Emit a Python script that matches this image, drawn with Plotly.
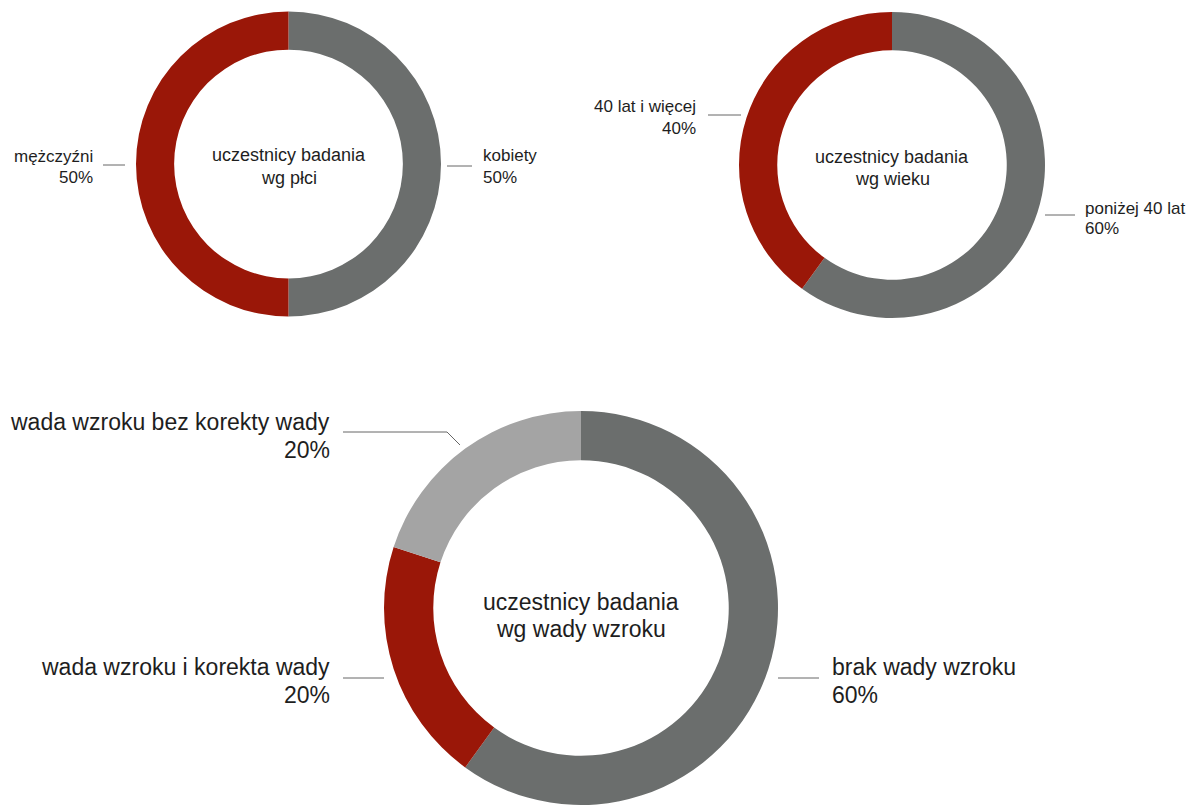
import plotly.graph_objects as go

W, H = 1197, 805

# ---- data ----
gender_labels = ["kobiety", "mężczyźni"]
gender_values = [50, 50]
age_labels = ["poniżej 40 lat", "40 lat i więcej"]
age_values = [60, 40]
vision_labels = ["brak wady wzroku", "wada wzroku i korekta wady", "wada wzroku bez korekty wady"]
vision_values = [60, 20, 20]
center_titles = [
    ["uczestnicy badania", "wg płci"],
    ["uczestnicy badania", "wg wieku"],
    ["uczestnicy badania", "wg wady wzroku"],
]

RED = "#9a1708"
DARK = "#6b6e6d"
LIGHT = "#a4a4a4"
TXT = "#1e1e1e"
LINE = "#666666"
FONT = "Liberation Sans, Arial, Helvetica, sans-serif"


def px(x):
    return x / W


def py(y):
    return 1 - y / H


def dom(cx, cy, r):
    return dict(x=[px(cx - r), px(cx + r)], y=[max(0, py(cy + r)), min(1, py(cy - r))])


fig = go.Figure()

fig.add_trace(go.Pie(
    labels=gender_labels, values=gender_values, hole=0.75, sort=False,
    direction="clockwise", rotation=0, textinfo="none", hoverinfo="label+percent",
    marker=dict(colors=[DARK, RED], line=dict(width=0)),
    domain=dom(288.5, 164, 152.5), showlegend=False,
))
fig.add_trace(go.Pie(
    labels=age_labels, values=age_values, hole=0.75, sort=False,
    direction="clockwise", rotation=0, textinfo="none", hoverinfo="label+percent",
    marker=dict(colors=[DARK, RED], line=dict(width=0)),
    domain=dom(892, 165, 153), showlegend=False,
))
fig.add_trace(go.Pie(
    labels=vision_labels, values=vision_values, hole=0.75, sort=False,
    direction="clockwise", rotation=0, textinfo="none", hoverinfo="label+percent",
    marker=dict(colors=[DARK, RED, LIGHT], line=dict(width=0)),
    domain=dict(x=[px(581 - 197), px(581 + 197)], y=[0, 394 / H]), showlegend=False,
))

annotations = []


def label(lines, x, ys, anchor, size):
    for t, y in zip(lines, ys):
        annotations.append(dict(
            text=t, x=px(x), y=py(y), xref="paper", yref="paper",
            xanchor=anchor, yanchor="middle", showarrow=False,
            align=anchor if anchor != "center" else "center",
            font=dict(family=FONT, size=size, color=TXT),
        ))


# top-left
label([gender_labels[1], f"{gender_values[1]}%"], 95, [156, 177], "right", 17)
label([gender_labels[0], f"{gender_values[0]}%"], 481, [155, 177], "left", 17)
label(center_titles[0], 289, [155, 178], "center", 18)
# top-right
label([age_labels[1], f"{age_values[1]}%"], 698, [107, 128], "right", 17)
label([age_labels[0], f"{age_values[0]}%"], 1083, [208, 228], "left", 17)
label(center_titles[1], 892, [157, 179], "center", 18)
# bottom
label([vision_labels[2], f"{vision_values[2]}%"], 332, [422, 450], "right", 23)
label([vision_labels[1], f"{vision_values[1]}%"], 332, [667, 695], "right", 23)
label([vision_labels[0], f"{vision_values[0]}%"], 830, [667, 695], "left", 23)
label(center_titles[2], 581, [602, 629], "center", 23)

shapes = []


def seg(pts):
    path = "M " + " L ".join(f"{px(x)},{py(y)}" for x, y in pts)
    shapes.append(dict(type="path", path=path, xref="paper", yref="paper",
                       line=dict(color=LINE, width=1)))


seg([(103, 165), (125, 165)])
seg([(447, 166), (472, 166)])
seg([(708, 115), (741, 115)])
seg([(1045, 215), (1075, 215)])
seg([(343, 432), (447, 432), (460, 445)])
seg([(343, 678), (384, 678)])
seg([(778, 678), (819, 678)])

fig.update_layout(
    width=W, height=H,
    margin=dict(l=0, r=0, t=0, b=0),
    paper_bgcolor="white", plot_bgcolor="white",
    annotations=annotations, shapes=shapes,
    showlegend=False,
)

fig.write_html("out.html")
